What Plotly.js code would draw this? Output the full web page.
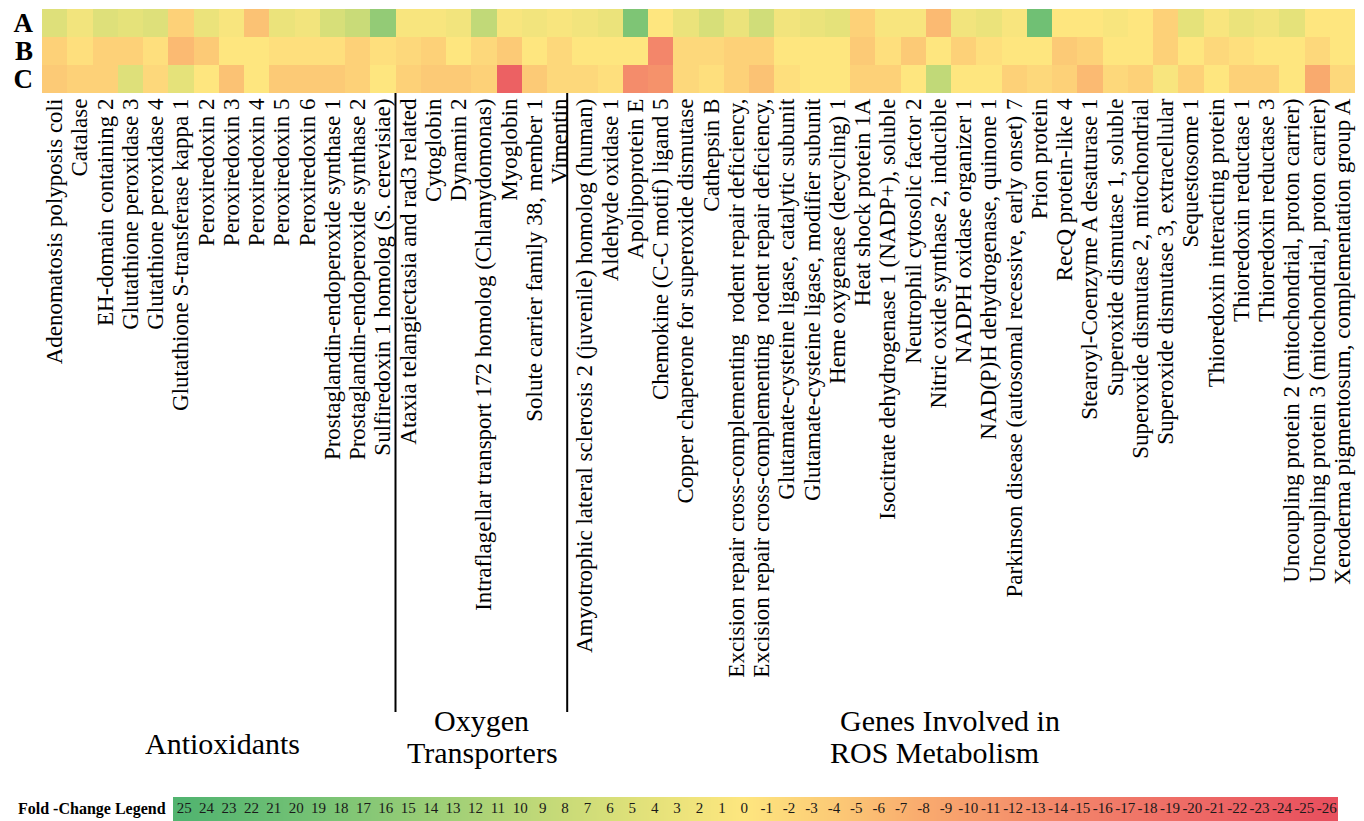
<!DOCTYPE html>
<html>
<head>
<meta charset="utf-8">
<script src="https://cdn.plot.ly/plotly-3.0.1.min.js"></script>
<style>html,body{margin:0;padding:0;background:#fff;}#chart{width:1364px;height:821px;}</style>
</head>
<body>
<div id="chart"></div>
<script>
// ---- data ----
var genes = [
  "Adenomatosis polyposis coli",
  "Catalase",
  "EH-domain containing 2",
  "Glutathione peroxidase 3",
  "Glutathione peroxidase 4",
  "Glutathione S-transferase kappa 1",
  "Peroxiredoxin 2",
  "Peroxiredoxin 3",
  "Peroxiredoxin 4",
  "Peroxiredoxin 5",
  "Peroxiredoxin 6",
  "Prostaglandin-endoperoxide synthase 1",
  "Prostaglandin-endoperoxide synthase 2",
  "Sulfiredoxin 1 homolog (S. cerevisiae)",
  "Ataxia telangiectasia and rad3 related",
  "Cytoglobin",
  "Dynamin 2",
  "Intraflagellar transport 172 homolog (Chlamydomonas)",
  "Myoglobin",
  "Solute carrier family 38, member 1",
  "Vimentin",
  "Amyotrophic lateral sclerosis 2 (juvenile) homolog (human)",
  "Aldehyde oxidase 1",
  "Apolipoprotein E",
  "Chemokine (C-C motif) ligand 5",
  "Copper chaperone for superoxide dismutase",
  "Cathepsin B",
  "Excision repair cross-complementing  rodent repair deficiency,",
  "Excision repair cross-complementing  rodent repair deficiency,",
  "Glutamate-cysteine ligase, catalytic subunit",
  "Glutamate-cysteine ligase, modifier subunit",
  "Heme oxygenase (decycling) 1",
  "Heat shock protein 1A",
  "Isocitrate dehydrogenase 1 (NADP+), soluble",
  "Neutrophil cytosolic factor 2",
  "Nitric oxide synthase 2, inducible",
  "NADPH oxidase organizer 1",
  "NAD(P)H dehydrogenase, quinone 1",
  "Parkinson disease (autosomal recessive, early onset) 7",
  "Prion protein",
  "RecQ protein-like 4",
  "Stearoyl-Coenzyme A desaturase 1",
  "Superoxide dismutase 1, soluble",
  "Superoxide dismutase 2, mitochondrial",
  "Superoxide dismutase 3, extracellular",
  "Sequestosome 1",
  "Thioredoxin interacting protein",
  "Thioredoxin reductase 1",
  "Thioredoxin reductase 3",
  "Uncoupling protein 2 (mitochondrial, proton carrier)",
  "Uncoupling protein 3 (mitochondrial, proton carrier)",
  "Xeroderma pigmentosum, complementation group A"
];
var rows = ["A", "B", "C"];
var rowA = [5,2,5,4,5,-3,3,1,-5,3,2,6,8,15,1,1,2,9,1,2,1,2,3,18,0,3,6,3,7,2,3,4,-3,1,1,-6,2,3,1,20,0,0,1,0,-3,4,1,3,2,4,0,0];
var rowB = [-3,-1,-3,-3,-1,-6,-4,0,0,-1,-1,-1,-3,-1,-2,-3,0,-2,-4,0,-2,0,0,0,-14,-2,-2,-3,-3,0,0,0,-4,-1,-4,0,-3,-1,0,0,-4,-3,0,0,-3,0,-2,-1,0,0,-2,0];
var rowC = [-4,-3,-3,5,-2,4,0,-5,0,-4,-4,-4,-3,0,-3,-4,-4,-3,-22,-4,-2,-2,-1,-13,-12,-2,-1,-3,-5,-1,0,0,-3,-3,0,9,0,0,-3,-2,-3,-6,-2,-3,1,-3,0,-3,-3,0,-8,-2];
var groupTitles = ["Antioxidants", "Oxygen", "Transporters", "Genes Involved in", "ROS Metabolism"];
var groupBoundaries = [13.5, 20.3];
var legendTitle = "Fold -Change Legend";
var legendValues = [25,24,23,22,21,20,19,18,17,16,15,14,13,12,11,10,9,8,7,6,5,4,3,2,1,0,-1,-2,-3,-4,-5,-6,-7,-8,-9,-10,-11,-12,-13,-14,-15,-16,-17,-18,-19,-20,-21,-22,-23,-24,-25,-26];

// ---- styling ----
var ZMIN = -26, ZMAX = 25;
function nz(v){ return (v - ZMIN) / (ZMAX - ZMIN); }
var colorscale = [
  [nz(-26), '#e8505e'],
  [nz(-20), '#ee6a66'],
  [nz(-14), '#f3866a'],
  [nz(-8),  '#f9aa6e'],
  [nz(-4),  '#fcca76'],
  [nz(0),   '#fee67f'],
  [nz(4),   '#e5e27a'],
  [nz(8),   '#c9db78'],
  [nz(12),  '#a9d277'],
  [nz(16),  '#8cc976'],
  [nz(20),  '#70c074'],
  [nz(25),  '#52b470']
];
var SERIF = '"Liberation Serif", "Times New Roman", serif';
var W = 1364, H = 821;
function px(x){ return x / W; }
function py(y){ return 1 - y / H; }

var idx = genes.map(function(_, i){ return i; });
var legIdx = legendValues.map(function(_, i){ return i; });

var heat = {
  type: 'heatmap',
  x: idx,
  y: rows,
  z: [rowA, rowB, rowC],
  zmin: ZMIN, zmax: ZMAX,
  colorscale: colorscale,
  showscale: false,
  xaxis: 'x', yaxis: 'y',
  hovertemplate: '%{y}: %{z}<extra></extra>'
};
var legendBar = {
  type: 'heatmap',
  x: legIdx,
  y: [0],
  z: [legendValues],
  zmin: ZMIN, zmax: ZMAX,
  colorscale: colorscale,
  zsmooth: 'best',
  showscale: false,
  xaxis: 'x2', yaxis: 'y2',
  hoverinfo: 'skip'
};
var legendText = {
  type: 'scatter',
  mode: 'text',
  x: legIdx,
  y: legendValues.map(function(){ return 0; }),
  text: legendValues.map(String),
  textfont: {family: SERIF, size: 15, color: '#1a1a1a'},
  xaxis: 'x2', yaxis: 'y2',
  hoverinfo: 'skip',
  showlegend: false
};

var shapes = groupBoundaries.map(function(b){
  return {type: 'line', xref: 'x', yref: 'paper', x0: b, x1: b,
          y0: py(93), y1: py(712), line: {color: '#000', width: 2}};
});
var titlePos = [[222, 743], [481, 720], [482, 752], [950, 720], [935, 752]];
var annotations = groupTitles.map(function(t, i){
  return {text: t, xref: 'paper', yref: 'paper', x: px(titlePos[i][0]), y: py(titlePos[i][1]),
          xanchor: 'center', yanchor: 'middle', showarrow: false,
          font: {family: SERIF, size: 30, color: '#000'}};
});
annotations.push({text: legendTitle, xref: 'paper', yref: 'paper', x: px(168), y: py(809),
  xanchor: 'right', yanchor: 'middle', showarrow: false,
  font: {family: SERIF, size: 16, color: '#000', weight: 'bold'}});

var layout = {
  width: W, height: H,
  margin: {l: 0, r: 0, t: 0, b: 0},
  paper_bgcolor: '#fff', plot_bgcolor: '#fff',
  showlegend: false,
  xaxis: {
    domain: [px(42), px(1355)], range: [-0.5, 51.5],
    tickmode: 'array', tickvals: idx, ticktext: genes,
    tickangle: -90, ticks: '', showgrid: false, zeroline: false, showline: false,
    tickfont: {family: SERIF, size: 23, color: '#000'}, automargin: false, fixedrange: true
  },
  yaxis: {
    domain: [py(93), py(9)], autorange: 'reversed', type: 'category',
    tickmode: 'array', tickvals: rows, ticktext: rows,
    ticks: '', showgrid: false, zeroline: false, showline: false, ticklabelstandoff: 8,
    tickfont: {family: SERIF, size: 27, color: '#000', weight: 'bold'}, automargin: false, fixedrange: true
  },
  xaxis2: {domain: [px(173), px(1338)], range: [-0.5, 51.5], visible: false, anchor: 'y2', fixedrange: true},
  yaxis2: {domain: [0, py(797)], range: [-0.5, 0.5], visible: false, anchor: 'x2', fixedrange: true},
  shapes: shapes,
  annotations: annotations
};

Plotly.newPlot('chart', [heat, legendBar, legendText], layout, {displayModeBar: false, staticPlot: true});
</script>
</body>
</html>
